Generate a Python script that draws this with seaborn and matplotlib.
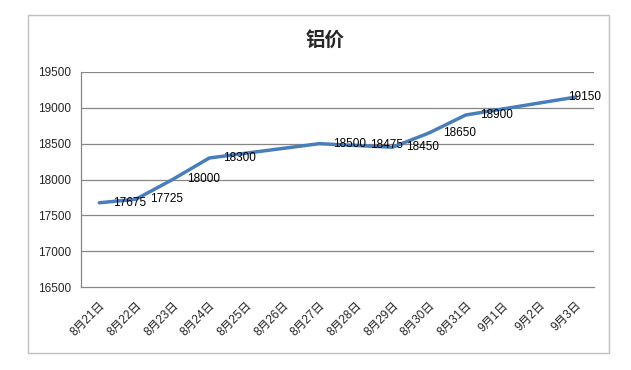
import numpy as np
import pandas as pd
import matplotlib
matplotlib.use("Agg")
import matplotlib.pyplot as plt
from matplotlib.patches import Rectangle
import seaborn as sns

dates = ["8月21日", "8月22日", "8月23日", "8月24日", "8月25日", "8月26日", "8月27日",
         "8月28日", "8月29日", "8月30日", "8月31日", "9月1日", "9月2日", "9月3日"]
prices = [17675, 17725, 18000, 18300, None, None, 18500,
          18475, 18450, 18650, 18900, None, None, 19150]
title = "铝价"
yticks = [16500, 17000, 17500, 18000, 18500, 19000, 19500]

sns.set_style("white")
plt.rcParams['font.family'] = ['Liberation Sans', 'Noto Sans CJK SC', 'DejaVu Sans']

df = pd.DataFrame({"pos": np.arange(len(dates)), "date": dates,
                   "price": pd.to_numeric(pd.Series(prices), errors="coerce")})
dfv = df.dropna()

fig = plt.figure(figsize=(6.31, 3.70), dpi=100)
ax = fig.add_axes([81/631, 1-287/370, (594-81)/631, (287-72)/370])

grid_c = "#868686"
for yv in yticks[1:]:
    ax.axhline(yv, color=grid_c, lw=0.9, zorder=0)

sns.lineplot(data=dfv, x="pos", y="price", ax=ax, color="#4a7ebb", lw=2.5,
             solid_capstyle="round", solid_joinstyle="round")

last = dfv.index[-1]
for i, r in dfv.iterrows():
    dx = -8 if i == last else 14
    ax.annotate(f"{int(r['price'])}", (r["pos"], r["price"]), xytext=(dx, 0),
                textcoords="offset pixels", ha="left", va="center",
                fontsize=8.5, color="#000000", annotation_clip=False)

ax.set_xlim(-0.5, len(dates) - 0.5)
ax.set_ylim(16500, 19500)
ax.set_yticks(yticks)
ax.set_yticklabels([str(v) for v in yticks], fontsize=8.5)
ax.set_xticks(np.arange(len(dates)))
ax.set_xticklabels(dates, rotation=45, ha="right", rotation_mode="anchor", fontsize=8.5)
ax.set_xticks(np.arange(-0.5, len(dates)), minor=True)
ax.tick_params(axis="x", which="major", length=0, pad=9)
ax.tick_params(axis="x", which="minor", length=5, color=grid_c, width=0.9, direction="out")
ax.tick_params(axis="y", length=5, color=grid_c, width=0.9, direction="out", pad=2)
ax.set_xlabel("")
ax.set_ylabel("")
for s in ["top", "right"]:
    ax.spines[s].set_visible(False)
for s in ["left", "bottom"]:
    ax.spines[s].set_color(grid_c)
    ax.spines[s].set_linewidth(0.9)

fig.text(325/631, 1-40/370, title, ha="center", va="center", fontsize=14,
         fontweight="bold", family=["Noto Sans CJK SC"])

fig.patches.append(Rectangle((28/631, 1-353/370), 581/631, 338/370,
                             transform=fig.transFigure, fill=False,
                             edgecolor="#c0c0c0", lw=1.0))

fig.savefig("out.png", dpi=100)
